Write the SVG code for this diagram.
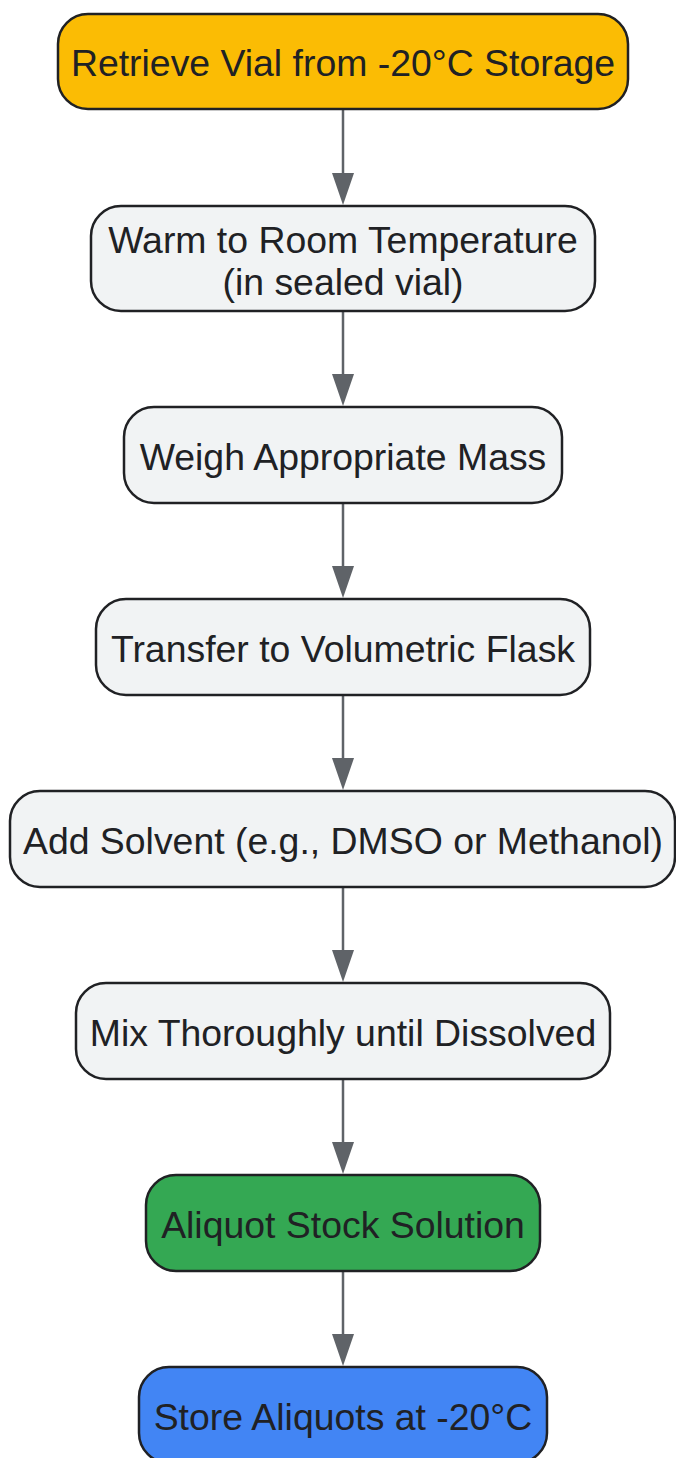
<svg xmlns="http://www.w3.org/2000/svg" width="676" height="1458" viewBox="0 0 676 1458">
<style>
.n{stroke:#202124;stroke-width:2.5}
.g{fill:#F1F3F4}
.t{font-family:"Liberation Sans",Arial,sans-serif;font-size:37.4px;fill:#202124;text-anchor:middle;dominant-baseline:central}
.e{stroke:#5F6368;stroke-width:2.5;fill:none}
.h{fill:#5F6368}
</style>
<rect width="676" height="1458" fill="#FFFFFF"/>
<g id="connectors">
<line class="e" x1="343" y1="109" x2="343" y2="176"/><polygon class="h" points="332,173 354,173 343,205"/>
<line class="e" x1="343" y1="311" x2="343" y2="377"/><polygon class="h" points="332,374 354,374 343,406"/>
<line class="e" x1="343" y1="503" x2="343" y2="569"/><polygon class="h" points="332,566 354,566 343,598"/>
<line class="e" x1="343" y1="695" x2="343" y2="761"/><polygon class="h" points="332,758 354,758 343,790"/>
<line class="e" x1="343" y1="887" x2="343" y2="953"/><polygon class="h" points="332,950 354,950 343,982"/>
<line class="e" x1="343" y1="1079" x2="343" y2="1145"/><polygon class="h" points="332,1142 354,1142 343,1174"/>
<line class="e" x1="343" y1="1271" x2="343" y2="1337"/><polygon class="h" points="332,1334 354,1334 343,1366"/>
</g>
<g id="n1"><rect class="n" x="58" y="14" width="570" height="95" rx="30" fill="#FBBC04"/><text class="t" x="343" y="63">Retrieve Vial from -20°C Storage</text></g>
<g id="n2"><rect class="n g" x="91" y="206" width="504" height="105" rx="30"/><text class="t" x="343" y="240">Warm to Room Temperature</text><text class="t" x="343" y="282">(in sealed vial)</text></g>
<g id="n3"><rect class="n g" x="124" y="407" width="438" height="96" rx="30"/><text class="t" x="343" y="457">Weigh Appropriate Mass</text></g>
<g id="n4"><rect class="n g" x="96" y="599" width="494" height="96" rx="30"/><text class="t" x="343" y="649">Transfer to Volumetric Flask</text></g>
<g id="n5"><rect class="n g" x="10" y="791" width="665" height="96" rx="30"/><text class="t" x="343" y="841">Add Solvent (e.g., DMSO or Methanol)</text></g>
<g id="n6"><rect class="n g" x="76" y="983" width="534" height="96" rx="30"/><text class="t" x="343" y="1033">Mix Thoroughly until Dissolved</text></g>
<g id="n7"><rect class="n" x="146" y="1175" width="394" height="96" rx="30" fill="#34A853"/><text class="t" x="343" y="1225">Aliquot Stock Solution</text></g>
<g id="n8"><rect class="n" x="139" y="1367" width="408" height="96" rx="30" fill="#4285F4"/><text class="t" x="343" y="1417">Store Aliquots at -20°C</text></g>
</svg>
